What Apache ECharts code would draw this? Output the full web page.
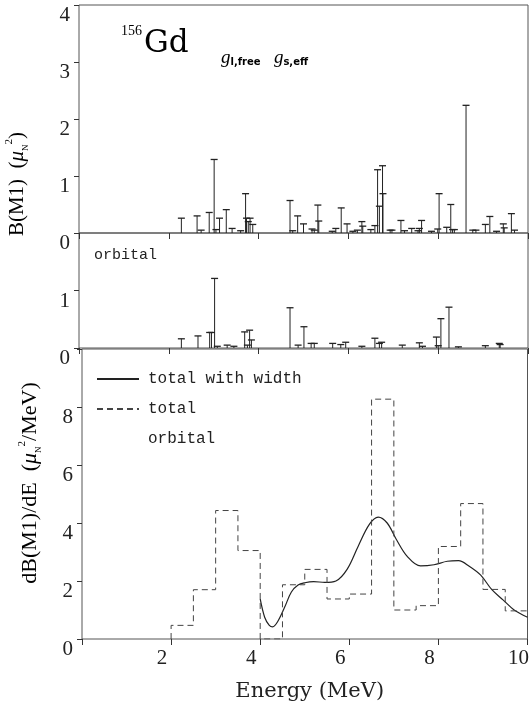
<!DOCTYPE html>
<html>
<head>
<meta charset="utf-8">
<script src="https://cdn.jsdelivr.net/npm/echarts@6/dist/echarts.min.js"></script>
<style>
  html, body { margin: 0; padding: 0; background: #fff; }
  #chart { width: 532px; height: 706px; }
</style>
</head>
<body>
<div id="chart"></div>
<script>
// B(M1) stick spectrum, total (top panel)
const totalE = [2.28, 2.63, 2.72, 2.90, 3.01, 3.05, 3.13, 3.28, 3.41, 3.60, 3.71, 3.73, 3.77, 3.81, 3.87,
  4.70, 4.76, 4.87, 5.00, 5.19, 5.24, 5.32, 5.34, 5.64, 5.72, 5.84, 5.97, 6.10, 6.20, 6.30, 6.32,
  6.50, 6.59, 6.65, 6.69, 6.76, 6.77, 6.93, 6.97, 7.17, 7.25, 7.41, 7.55, 7.58, 7.63, 7.85, 7.99,
  8.02, 8.19, 8.28, 8.32, 8.36, 8.62, 8.77, 8.84, 9.05, 9.15, 9.30, 9.45, 9.47, 9.63, 9.70]
const totalB = [0.26, 0.30, 0.05, 0.36, 1.29, 0.06, 0.26, 0.41, 0.08, 0.04, 0.69, 0.26, 0.20, 0.26, 0.15,
  0.57, 0.04, 0.30, 0.16, 0.07, 0.05, 0.49, 0.21, 0.03, 0.08, 0.44, 0.16, 0.03, 0.05, 0.20, 0.12,
  0.06, 0.13, 1.11, 0.47, 1.18, 0.69, 0.05, 0.05, 0.22, 0.04, 0.08, 0.04, 0.08, 0.22, 0.03, 0.07,
  0.69, 0.10, 0.50, 0.06, 0.06, 2.24, 0.05, 0.05, 0.15, 0.29, 0.03, 0.16, 0.09, 0.34, 0.05]

// orbital part (middle panel)
const orbitalE = [2.28, 2.65, 2.91, 2.95, 3.02, 3.08, 3.30, 3.45, 3.69, 3.75, 3.80, 3.84,
  4.70, 4.88, 5.01, 5.17, 5.24, 5.65, 5.83, 5.94, 6.30, 6.59, 6.69, 6.74, 7.20, 7.58, 7.65,
  7.96, 8.00, 8.06, 8.24, 8.45, 9.05, 9.36, 9.38]
const orbitalB = [0.16, 0.21, 0.27, 0.27, 1.21, 0.03, 0.05, 0.03, 0.28, 0.05, 0.31, 0.14,
  0.70, 0.05, 0.37, 0.08, 0.08, 0.08, 0.06, 0.10, 0.03, 0.17, 0.08, 0.10, 0.05, 0.09, 0.03,
  0.19, 0.04, 0.51, 0.71, 0.02, 0.04, 0.08, 0.06]

// dB/dE histogram, 0.5 MeV bins (bottom panel, dashed)
const binEdges = [2.0, 2.5, 3.0, 3.5, 4.0, 4.5, 5.0, 5.5, 6.0, 6.5, 7.0, 7.5, 8.0, 8.5, 9.0, 9.5, 10.0]
const binTotal = [0.47, 1.70, 4.43, 3.05, 0, 1.87, 2.40, 1.38, 1.55, 8.27, 1.00, 1.15, 3.19, 4.67, 1.71, 0.97]

// folded with width (bottom panel, solid)
const widthE = [4.0, 4.1, 4.2, 4.28, 4.4, 4.55, 4.7, 4.85, 5.0, 5.2, 5.45, 5.7, 5.95, 6.2, 6.45, 6.65,
  6.85, 7.05, 7.3, 7.6, 7.9, 8.2, 8.45, 8.7, 8.95, 9.2, 9.45, 9.7, 10.0]
const widthV = [1.38, 0.75, 0.48, 0.42, 0.62, 1.1, 1.62, 1.86, 1.94, 1.98, 1.95, 2.0, 2.4, 3.2, 3.95, 4.2,
  4.0, 3.45, 2.85, 2.52, 2.56, 2.68, 2.7, 2.5, 2.2, 1.7, 1.35, 1.0, 0.75]

const serif = 'Liberation Serif'
const wide = 'DejaVu Serif'
const mono = 'Liberation Mono'
const ink = '#222'

const stickItem = (params, api) => {
  const base = api.coord([api.value(0), 0])
  const top = api.coord([api.value(0), api.value(1)])
  return {
    type: 'group',
    children: [
      { type: 'line', shape: { x1: base[0], y1: base[1], x2: top[0], y2: top[1] }, style: { stroke: ink, lineWidth: 1 } },
      { type: 'line', shape: { x1: top[0] - 3.5, y1: top[1], x2: top[0] + 3.5, y2: top[1] }, style: { stroke: ink, lineWidth: 1.3 } }
    ]
  }
}

const xAxis = (gridIndex, withLabels) => ({
  type: 'value', gridIndex, min: 0, max: 10, interval: 2,
  axisLine: { show: false },
  axisTick: { show: true, inside: false, length: 6, lineStyle: { color: '#333' } },
  splitLine: { show: false },
  axisLabel: withLabels ? {
    fontFamily: serif, fontSize: 21, color: ink, margin: 9, padding: [0, 18, 0, 0],
    formatter: v => v === 0 ? '' : v
  } : { show: false }
})

const yAxis = (gridIndex, max, interval, hide) => ({
  type: 'value', gridIndex, min: 0, max, interval,
  axisLine: { show: false },
  axisTick: { show: true, length: 5, lineStyle: { color: '#333' } },
  splitLine: { show: false },
  axisLabel: {
    fontFamily: serif, fontSize: 21, color: ink, margin: 9, verticalAlign: 'top',
    formatter: v => hide.includes(v) ? '' : v
  }
})

const histData = [[binEdges[0], 0]]
  .concat(binTotal.map((v, i) => [binEdges[i], v]))
  .concat([[binEdges[binEdges.length - 1], binTotal[binTotal.length - 1]]])

const grid = { show: true, borderColor: '#555', borderWidth: 1 }

const option = {
  backgroundColor: '#fff',
  animation: false,
  grid: [
    Object.assign({ left: 79, right: 4, top: 5, height: 228 }, grid),
    Object.assign({ left: 79, right: 4, top: 233, height: 115 }, grid),
    Object.assign({ left: 82, right: 0, top: 349, height: 290 }, grid)
  ],
  xAxis: [
    xAxis(0, false),
    xAxis(1, false),
    Object.assign(xAxis(2, true), {
      name: 'Energy (MeV)', nameLocation: 'middle', nameGap: 42,
      nameTextStyle: { fontFamily: wide, fontSize: 21, color: ink, padding: [0, 0, 0, 10] }
    })
  ],
  yAxis: [
    yAxis(0, 4, 1, []),
    yAxis(1, 2, 1, [2]),
    yAxis(2, 10, 2, [10])
  ],
  legend: {
    orient: 'vertical', left: 96, top: 371, padding: 0,
    itemWidth: 42, itemHeight: 14, itemGap: 14,
    itemStyle: { opacity: 0 },
    selectedMode: false,
    data: ['total with width', 'total', 'orbital'],
    textStyle: { fontFamily: mono, fontSize: 16, color: ink, padding: [0, 0, 0, 4] }
  },
  graphic: [
    {
      type: 'text', left: 121, top: 24,
      style: {
        text: '{sup|156}{big|Gd}',
        rich: {
          sup: { fontFamily: serif, fontSize: 14, color: ink, verticalAlign: 'top', lineHeight: 40 },
          big: { fontFamily: wide, fontSize: 31, color: ink, lineHeight: 40, padding: [0, 0, 0, 2] }
        }
      }
    },
    {
      type: 'text', left: 221, top: 48,
      style: {
        text: '{g|g}{s|l,free}    {g|g}{s|s,eff}',
        rich: {
          g: { fontFamily: serif, fontStyle: 'italic', fontSize: 19, color: ink, lineHeight: 20 },
          s: { fontFamily: 'DejaVu Sans', fontSize: 10, fontWeight: 'bold', color: '#333', verticalAlign: 'bottom', lineHeight: 18 }
        }
      }
    },
    {
      type: 'text', left: 94, top: 248,
      style: { text: 'orbital', fontFamily: mono, fontSize: 15, fill: ink }
    },
    {
      type: 'text', x: 17, y: 184, rotation: Math.PI / 2,
      style: {
        text: '{t|B(M1)  (}{m|μ}{sub|N}{sup|2}{t|)}',
        align: 'center', verticalAlign: 'middle',
        rich: {
          t: { fontFamily: serif, fontSize: 21, color: ink, lineHeight: 26 },
          m: { fontFamily: serif, fontStyle: 'italic', fontSize: 21, color: ink, lineHeight: 26 },
          sub: { fontFamily: serif, fontSize: 9, color: ink, verticalAlign: 'bottom', lineHeight: 26 },
          sup: { fontFamily: serif, fontSize: 11, color: ink, verticalAlign: 'top', lineHeight: 26 }
        }
      }
    },
    {
      type: 'text', x: 30, y: 483, rotation: Math.PI / 2,
      style: {
        text: '{t|dB(M1)/dE  (}{m|μ}{sub|N}{sup|2}{t|/MeV)}',
        align: 'center', verticalAlign: 'middle',
        rich: {
          t: { fontFamily: serif, fontSize: 22, color: ink, lineHeight: 26 },
          m: { fontFamily: serif, fontStyle: 'italic', fontSize: 22, color: ink, lineHeight: 26 },
          sub: { fontFamily: serif, fontSize: 9, color: ink, verticalAlign: 'bottom', lineHeight: 26 },
          sup: { fontFamily: serif, fontSize: 11, color: ink, verticalAlign: 'top', lineHeight: 26 }
        }
      }
    }
  ],
  series: [
    {
      name: 'B(M1)', type: 'custom', xAxisIndex: 0, yAxisIndex: 0,
      renderItem: stickItem,
      data: totalE.map((e, i) => [e, totalB[i]])
    },
    {
      name: 'B(M1) orbital', type: 'custom', xAxisIndex: 1, yAxisIndex: 1,
      renderItem: stickItem,
      data: orbitalE.map((e, i) => [e, orbitalB[i]])
    },
    {
      name: 'total with width', type: 'line', xAxisIndex: 2, yAxisIndex: 2,
      smooth: 0.35, symbol: 'none',
      lineStyle: { color: ink, width: 1.2 },
      itemStyle: { color: ink },
      data: widthE.map((e, i) => [e, widthV[i]])
    },
    {
      name: 'total', type: 'line', xAxisIndex: 2, yAxisIndex: 2,
      step: 'end', symbol: 'none',
      lineStyle: { color: '#444', width: 1, type: [6, 4] },
      itemStyle: { color: '#444' },
      data: histData
    },
    {
      name: 'orbital', type: 'line', xAxisIndex: 2, yAxisIndex: 2,
      symbol: 'none',
      lineStyle: { color: 'rgba(0,0,0,0)', width: 0 },
      itemStyle: { color: 'rgba(0,0,0,0)' },
      data: []
    }
  ]
}

const chart = echarts.init(document.getElementById('chart'))
chart.setOption(option)
</script>
</body>
</html>
